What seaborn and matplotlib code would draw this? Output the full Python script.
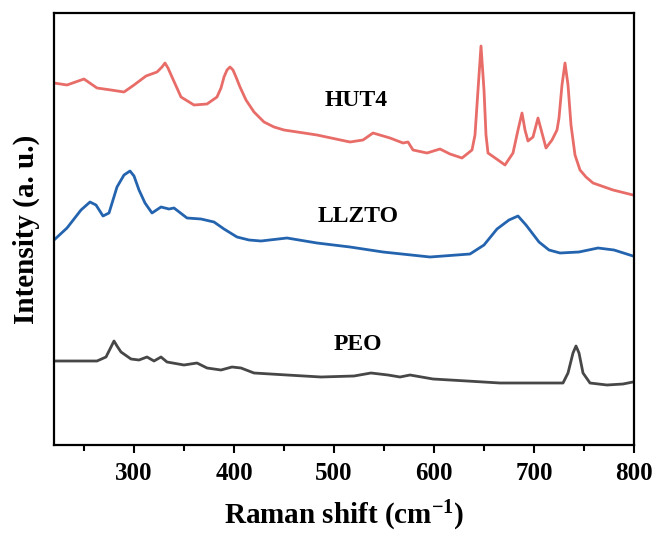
import numpy as np
import pandas as pd
import matplotlib
matplotlib.use("Agg")
import matplotlib.pyplot as plt
from matplotlib.ticker import MultipleLocator
import seaborn as sns

# ---- data (intensity in arbitrary units) ----
hut4_shift = [220, 233, 250, 263, 277, 290, 300, 312, 323, 328, 331, 334, 338, 347, 360, 373, 383,
              387, 390, 393, 396, 399, 402, 406, 412, 420, 430, 440, 450, 470, 483, 516, 529, 539, 556, 569, 574, 579,
              593, 606, 616, 628, 638, 641, 644, 647, 650, 652, 654, 664, 671, 679, 684,
              688, 691, 694, 699, 704, 708, 712, 718, 723, 725, 728, 731, 734, 737, 741,
              746, 752, 759, 779, 799]
hut4_px = [83, 85, 79, 88, 90, 92, 85, 76, 72, 67, 63, 68, 77, 97, 105, 104, 97,
           88, 77, 70, 67, 70, 77, 87, 100, 112, 122, 127, 130, 133, 135, 142, 140, 133, 138, 143, 142, 150,
           153, 149, 154, 158, 150, 135, 90, 46, 90, 135, 153, 160, 165, 153, 130,
           113, 130, 141, 137, 118, 133, 148, 140, 130, 118, 85, 63, 85, 125, 155,
           170, 177, 183, 190, 195]

llzto_shift = [220, 233, 247, 256, 262, 269, 275, 283, 290, 296, 300, 305, 311, 318, 327, 335, 340,
               353, 367, 380, 390, 403, 415, 427, 453, 483, 516, 549, 596, 636, 650, 663, 675, 684,
               692, 705, 715, 726, 745, 764, 780, 799]
llzto_px = [240, 228, 210, 202, 205, 216, 213, 187, 175, 171, 176, 190, 203, 213, 207, 209, 208,
            218, 219, 222, 229, 237, 240, 241, 238, 243, 247, 252, 257, 254, 245, 229, 220, 216,
            225, 242, 250, 253, 252, 248, 250, 256]

peo_shift = [220, 240, 263, 272, 277, 280, 283, 287, 297, 305, 313, 320, 327, 333, 350, 363, 373,
             387, 398, 407, 420, 453, 487, 520, 537, 554, 566, 576, 599, 633, 666, 699,
             729, 734, 739, 742, 745, 749, 756, 773, 789, 799]
peo_px = [361, 361, 361, 357, 347, 341, 346, 352, 359, 360, 357, 361, 357, 362, 365, 363, 368,
          370, 367, 368, 373, 375, 377, 376, 373, 375, 377, 375, 379, 381, 383, 383,
          383, 373, 353, 346, 353, 373, 383, 385, 384, 382]

samples = ["HUT4", "LLZTO", "PEO"]
label_shift = [522, 524, 524]
label_px = [101, 217, 345]
x_ticks = [300, 400, 500, 600, 700, 800]

BASE = 445  # convert picture rows to an intensity scale
def to_int(px):
    return [BASE - p for p in px]

df = pd.concat([
    pd.DataFrame({"shift": hut4_shift, "intensity": to_int(hut4_px), "sample": "HUT4"}),
    pd.DataFrame({"shift": llzto_shift, "intensity": to_int(llzto_px), "sample": "LLZTO"}),
    pd.DataFrame({"shift": peo_shift, "intensity": to_int(peo_px), "sample": "PEO"}),
], ignore_index=True)

palette = {"HUT4": "#E86C68", "LLZTO": "#2464AF", "PEO": "#474747"}

# ---- style ----
sns.set_style("ticks")
plt.rcParams["font.family"] = ["Liberation Serif", "DejaVu Serif"]
plt.rcParams["font.weight"] = "bold"
plt.rcParams["text.color"] = "black"
plt.rcParams["axes.labelcolor"] = "black"
plt.rcParams["xtick.color"] = "black"
plt.rcParams["ytick.color"] = "black"
plt.rcParams["mathtext.fontset"] = "custom"
plt.rcParams["mathtext.rm"] = "Liberation Serif:bold"
plt.rcParams["mathtext.bf"] = "Liberation Serif:bold"
plt.rcParams["mathtext.it"] = "Liberation Serif:bold"

fig = plt.figure(figsize=(6.62, 5.35), dpi=100)
ax = fig.add_axes([54 / 662, (535 - 445) / 535, 580 / 662, 432 / 535])

sns.lineplot(data=df, x="shift", y="intensity", hue="sample", palette=palette,
             estimator=None, sort=False, linewidth=2.0, legend=False, ax=ax)

for s, xs, py in zip(samples, label_shift, label_px):
    ax.text(xs, BASE - py, s, ha="center", va="center", fontsize=17,
            fontweight="bold", color="black")

ax.set_xlim(220, 800)
ax.set_ylim(0, 432)
ax.set_xticks(x_ticks)
ax.xaxis.set_minor_locator(MultipleLocator(50))
ax.set_yticks([])
ax.tick_params(axis="x", which="major", length=6, width=1.5, direction="out",
               labelsize=18, pad=6, top=False, colors="black")
ax.tick_params(axis="x", which="minor", length=4, width=1.5, direction="out", top=False,
               colors="black")
for lab in ax.get_xticklabels():
    lab.set_fontweight("bold")

for sp in ax.spines.values():
    sp.set_linewidth(1.6)
    sp.set_color("black")

ax.set_xlabel(r"Raman shift (cm$^{-1}$)", fontsize=21, fontweight="bold", labelpad=10,
              color="black")
ax.set_ylabel("Intensity (a. u.)", fontsize=21, fontweight="bold", labelpad=10,
              color="black")

fig.savefig("out.png", dpi=100)
